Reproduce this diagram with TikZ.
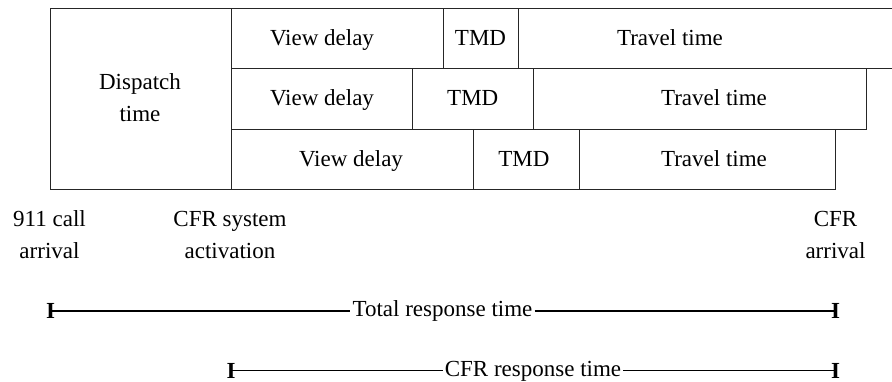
\documentclass[tikz,border=0pt]{standalone}
\usepackage{fontspec}
\setmainfont{Liberation Serif}
\begin{document}
\begin{tikzpicture}[x=1pt,y=-1pt,
  every node/.style={font=\fontsize{23}{32}\selectfont},
  cell/.style={draw=black!85, line width=1pt, inner sep=0pt, outer sep=0pt, anchor=north west},
  txt/.style={inner sep=0pt, anchor=base},
  lbl/.style={inner sep=0pt, anchor=base, align=center},
  endbar/.style={inner sep=0pt, outer sep=0pt, anchor=base, font=\fontsize{23}{32}\selectfont\bfseries},
  spantxt/.style={inner xsep=2pt, inner ysep=0pt, anchor=base},
  spanline/.style={line width=1.2pt},
]
\useasboundingbox (0,0) rectangle (892,381);

% dispatch block
\node[cell, minimum width=181pt, minimum height=181pt] (disp) at (50,8) {};
\node[lbl] (disptxt) at (140,121.7) {Dispatch\\time};

% first responder rows: view delay, TMD, travel time
\node[cell, minimum width=212pt, minimum height=60pt] (v1) at (231,8) {};
\node[cell, minimum width=75pt,  minimum height=60pt] (m1) at (443,8) {};
\node[cell, minimum width=380pt, minimum height=60pt] (t1) at (518,8) {};

\node[cell, minimum width=181pt, minimum height=61pt] (v2) at (231,68) {};
\node[cell, minimum width=121pt, minimum height=61pt] (m2) at (412,68) {};
\node[cell, minimum width=333pt, minimum height=61pt] (t2) at (533,68) {};

\node[cell, minimum width=242pt, minimum height=60pt] (v3) at (231,129) {};
\node[cell, minimum width=106pt, minimum height=60pt] (m3) at (473,129) {};
\node[cell, minimum width=256pt, minimum height=60pt] (t3) at (579,129) {};

\node[txt] (v1t) at (322,45.5) {View delay};
\node[txt] (m1t) at (480.5,45.5) {TMD};
\node[txt] (t1t) at (670,45.5) {Travel time};

\node[txt] (v2t) at (322,105.5) {View delay};
\node[txt] (m2t) at (472.8,105.5) {TMD};
\node[txt] (t2t) at (714,105.5) {Travel time};

\node[txt] (v3t) at (351,166) {View delay};
\node[txt] (m3t) at (523.8,166) {TMD};
\node[txt] (t3t) at (714,166) {Travel time};

% event labels (anchored at the baseline of their last line)
\node[lbl] (call) at (49.5,258) {911 call\\arrival};
\node[lbl] (act)  at (230,258) {CFR system\\activation};
\node[lbl] (arr)  at (835.5,258) {CFR\\arrival};

% total response time span
\node[endbar] (totL) at (50.5,318.5) {I};
\node[endbar] (totR) at (835.5,318.5) {I};
\node[spantxt] (tot) at (442.5,316) {Total response time};
\draw[spanline] (totL.center) -- (totL.center -| tot.west);
\draw[spanline] (totR.center -| tot.east) -- (totR.center);

% CFR response time span
\node[endbar] (cfrL) at (231,378) {I};
\node[endbar] (cfrR) at (835.5,378) {I};
\node[spantxt] (cfr) at (533,376) {CFR response time};
\draw[spanline] (cfrL.center) -- (cfrL.center -| cfr.west);
\draw[spanline] (cfrR.center -| cfr.east) -- (cfrR.center);
\end{tikzpicture}
\end{document}
